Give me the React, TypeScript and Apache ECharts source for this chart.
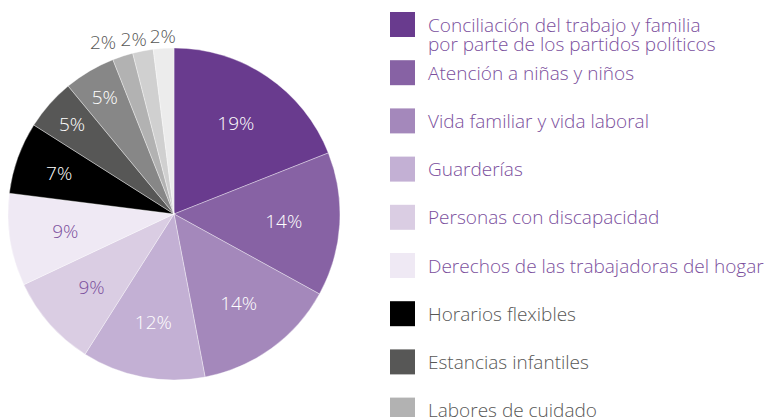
import React, { useEffect, useRef } from "react";
import * as echarts from "echarts";

// ---- Data ----
const sliceNames = [
  "Conciliación del trabajo y familia por parte de los partidos políticos",
  "Atención a niñas y niños",
  "Vida familiar y vida laboral",
  "Guarderías",
  "Personas con discapacidad",
  "Derechos de las trabajadoras del hogar",
  "Horarios flexibles",
  "Estancias infantiles",
  "Otro tema A",
  "Labores de cuidado",
  "Otro tema B",
  "Otro tema C",
];
const sliceValues = [19, 14, 14, 12, 9, 9, 7, 5, 5, 2, 2, 2];
const sliceColors = [
  "#693B8E", "#8762A4", "#A488BB", "#C3B0D4", "#DACDE3", "#EFE9F4",
  "#000000", "#575756", "#878787", "#B2B2B2", "#D0D0D0", "#ECECEC",
];
// label colour per slice
const labelColors = [
  "#ffffff", "#ffffff", "#ffffff", "#ffffff", "#7B4F9D", "#7B4F9D",
  "#ffffff", "#ffffff", "#ffffff", "#575756", "#575756", "#575756",
];
// label ring group per slice (0: mid, 1: 7%, 2: 5%, 3: outside small)
const labelGroup = [0, 0, 0, 0, 0, 0, 1, 2, 2, 3, 3, 3];

const legendNames = [
  "Conciliación del trabajo y familia\npor parte de los partidos políticos",
  "Atención a niñas y niños",
  "Vida familiar y vida laboral",
  "Guarderías",
  "Personas con discapacidad",
  "Derechos de las trabajadoras del hogar",
  "Horarios flexibles",
  "Estancias infantiles",
  "Labores de cuidado",
];
const legendColors = [
  "#693B8E", "#8762A4", "#A488BB", "#C3B0D4", "#DACDE3", "#EFE9F4",
  "#000000", "#575756", "#B2B2B2",
];
const legendTextColors = [
  "#7B4F9D", "#7B4F9D", "#7B4F9D", "#7B4F9D", "#7B4F9D", "#7B4F9D",
  "#575756", "#575756", "#575756",
];

// ---- Style ----
const FONT = "'Open Sans', Lato, sans-serif";
const CX = 174;
const CY = 214;
const R = 166;
const ringRadii = [214, 238, 266, 350];
const smallLabelOffsets: Record<number, number[]> = { 9: [-16, -3], 10: [-7, 0], 11: [0, 0] };

export default function App() {
  const ref = useRef<HTMLDivElement>(null);
  useEffect(() => {
    if (!ref.current) return;
    const chart = echarts.init(ref.current, undefined, { renderer: "svg" });

    const mainSeries = {
      type: "pie",
      center: [CX, CY],
      radius: [0, R],
      startAngle: 90,
      clockwise: true,
      silent: true,
      label: { show: false },
      labelLine: { show: false },
      itemStyle: { borderColor: "rgba(255,255,255,0.6)", borderWidth: 0.6 },
      data: sliceValues.map((v, i) => ({
        value: v,
        name: sliceNames[i],
        itemStyle: { color: sliceColors[i] },
      })),
    };

    const labelSeries = ringRadii.map((rr, g) => ({
      type: "pie",
      center: [CX, CY],
      radius: [0, rr],
      startAngle: 90,
      clockwise: true,
      silent: true,
      z: 5,
      itemStyle: { color: "transparent", borderWidth: 0 },
      labelLine: { show: false },
      data: sliceValues.map((v, i) => ({
        value: v,
        name: sliceNames[i],
        label: {
          show: labelGroup[i] === g,
          position: "inside",
          formatter: `${v}%`,
          color: labelColors[i],
          fontFamily: FONT,
          fontWeight: 300,
          fontSize: 19,
          offset: smallLabelOffsets[i] || [0, 0],
        },
      })),
    }));

    const graphics: any[] = [];
    legendNames.forEach((name, i) => {
      const top = 12 + i * 48.2;
      graphics.push({
        type: "rect",
        shape: { x: 390, y: top, width: 25, height: 25 },
        style: { fill: legendColors[i] },
      });
      name.split("\n").forEach((line, j) => {
        graphics.push({
          type: "text",
          x: 428,
          y: top + 12.5 - 9.5 + j * 19,
          style: {
            text: line,
            fill: legendTextColors[i],
            font: `300 19px ${FONT}`,
            lineHeight: 19,
            verticalAlign: "top",
            align: "left",
          },
        });
      });
    });

    chart.setOption({
      animation: false,
      backgroundColor: "#ffffff",
      series: [mainSeries, ...labelSeries],
      graphic: graphics,
    });
    return () => chart.dispose();
  }, []);
  return (
    <div
      ref={ref}
      style={{ position: "fixed", left: 0, top: 0, width: 769, height: 417 }}
    />
  );
}
